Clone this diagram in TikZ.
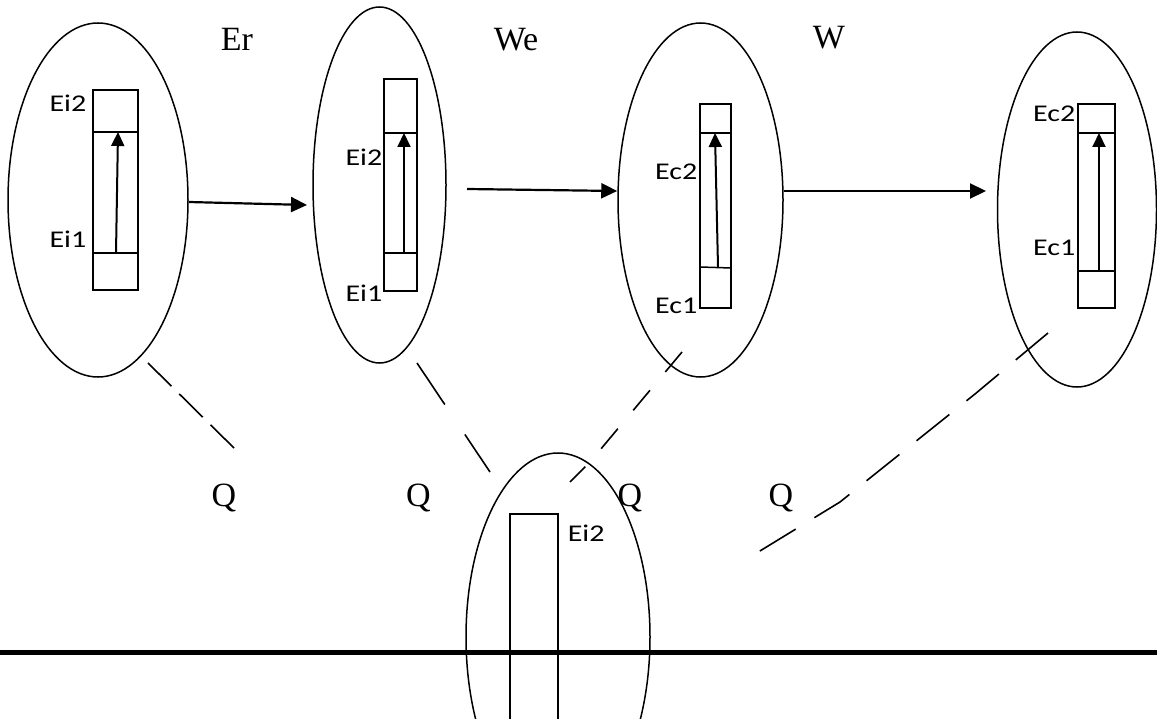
\documentclass[tikz,border=0pt]{standalone}
\usepackage{fontspec}
\setmainfont{Liberation Serif}
\newfontfamily\labfont[FakeStretch=1.25]{Carlito}
\usetikzlibrary{shapes.geometric,arrows.meta}
\begin{document}
\begin{tikzpicture}[x=1pt,y=-1pt,line width=1.5pt,
  oval/.style={ellipse,draw,inner sep=0pt},
  lab/.style={font=\labfont\fontsize{24}{24}\selectfont,inner sep=0pt},
  big/.style={font=\fontsize{34}{34}\selectfont,inner sep=0pt},
  flow/.style={line width=2.2pt,-{Triangle[length=16pt,width=15pt]}},
  rise/.style={line width=2pt,-{Triangle[length=14pt,width=13pt]}},
  qline/.style={line width=1.6pt}]
\useasboundingbox (0,0) rectangle (1157,719);
\fill[white] (0,0) rectangle (1157,719);

% ellipses
\node[oval,minimum width=180pt,minimum height=354pt] (e1) at (98,200) {};
\node[oval,minimum width=133pt,minimum height=356pt] (e2) at (379.5,185) {};
\node[oval,minimum width=165pt,minimum height=354pt] (e3) at (700.5,200) {};
\node[oval,minimum width=159pt,minimum height=355pt] (e4) at (1077,209.5) {};
\node[oval,minimum width=184pt,minimum height=368pt] (e5) at (558,637) {};

% box 1
\draw (93,90) rectangle (138,290);
\draw (93,132) -- (138,132);
\draw (93,253) -- (138,253);
\coordinate (a1s) at (116,253); \coordinate (a1e) at (118,132);
\draw[rise] (a1s) -- (a1e);
\node[lab,anchor=base east] (l1a) at (87,112) {Ei2};
\node[lab,anchor=base east] (l1b) at (87,248) {Ei1};

% box 2
\draw (384,79) rectangle (417,291);
\draw (384,133) -- (417,133);
\draw (384,253) -- (417,253);
\coordinate (a2s) at (404,253); \coordinate (a2e) at (404,133);
\draw[rise] (a2s) -- (a2e);
\node[lab,anchor=base east] (l2a) at (383,166) {Ei2};
\node[lab,anchor=base east] (l2b) at (383,302) {Ei1};

% box 3
\draw (700,104) rectangle (731,308);
\draw (700,133) -- (731,133);
\draw (700,267) -- (731,268);
\coordinate (a3s) at (718,267); \coordinate (a3e) at (715,133);
\draw[rise] (a3s) -- (a3e);
\node[lab,anchor=base east] (l3a) at (698,180) {Ec2};
\node[lab,anchor=base east] (l3b) at (698,314) {Ec1};

% box 4
\draw (1078,104) rectangle (1115,308);
\draw (1078,133) -- (1115,133);
\draw (1078,271) -- (1115,271);
\coordinate (a4s) at (1099,271); \coordinate (a4e) at (1099,133);
\draw[rise] (a4s) -- (a4e);
\node[lab,anchor=base east] (l4a) at (1076,122) {Ec2};
\node[lab,anchor=base east] (l4b) at (1076,256) {Ec1};

% bottom box
\draw (510,760) -- (510,514) -- (558,514) -- (558,760);
\node[lab,anchor=base west] (l5) at (567,541) {Ei2};

% ground line
\coordinate (gl) at (0,652); \coordinate (gr) at (1157,652);
\draw[line width=5pt] (gl) -- (gr);

% flow arrows
\coordinate (f1s) at (188,202); \coordinate (f1e) at (307,205);
\coordinate (f2s) at (467,189); \coordinate (f2e) at (618,191);
\coordinate (f3s) at (783,191); \coordinate (f3e) at (986,191);
\draw[flow] (e1.east |- f1s) -- (f1e);
\draw[flow] (f2s) -- (e3.west |- f2e);
\draw[flow] (e3.east |- f3s) -- (f3e);

% titles
\node[big,anchor=base] (er) at (237,51) {Er};
\node[big,anchor=base] (we) at (516,51) {We};
\node[big,anchor=base] (w) at (829,49) {W};

% Q labels
\node[big,anchor=base] (q1) at (224,506) {Q};
\node[big,anchor=base] (q2) at (418.5,506) {Q};
\node[big,anchor=base] (q3) at (630,506) {Q};
\node[big,anchor=base] (q4) at (781,506) {Q};

% dashed lines
\coordinate (d1s) at (148,363); \coordinate (d1e) at (236,450);
\draw[qline,dash pattern=on 33pt off 11pt] (d1s) -- (d1e);
\coordinate (d2s) at (417,363); \coordinate (d2e) at (490,472);
\draw[qline,dash pattern=on 50pt off 36pt] (d2s) -- (d2e);
\coordinate (d3s) at (682,352); \coordinate (d3m) at (590,462); \coordinate (d3e) at (570,482);
\draw[qline,dash pattern=on 26pt off 24pt] (d3s) -- (d3m) -- (d3e);
\coordinate (d4s) at (1048,333); \coordinate (d4a) at (975,394);
\coordinate (d4b) at (840,502); \coordinate (d4e) at (755,554);
\draw[qline,dash pattern=on 42pt off 22pt] (d4s) -- (d4a) -- (d4b) -- (d4e);
\end{tikzpicture}
\end{document}
